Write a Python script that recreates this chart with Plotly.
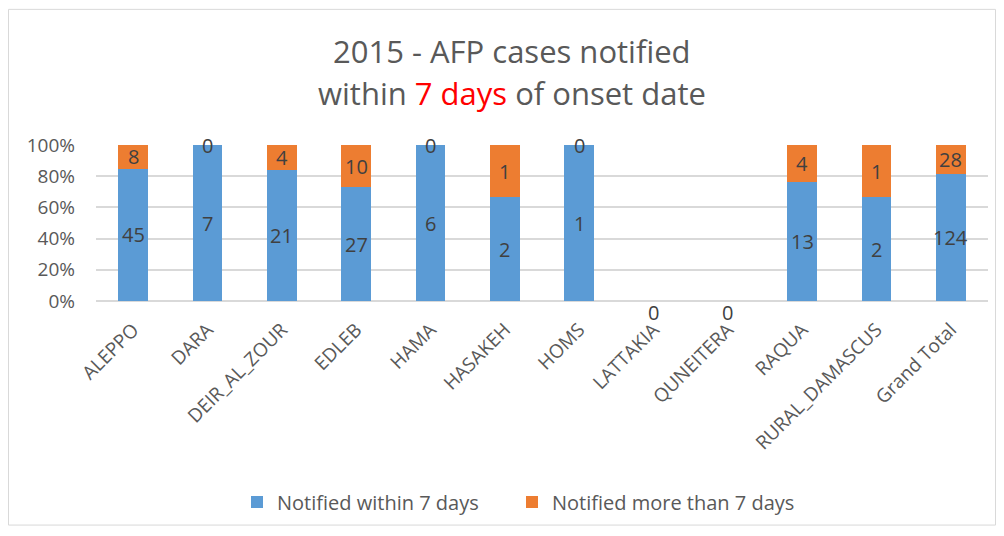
import plotly.graph_objects as go

categories = ["ALEPPO", "DARA", "DEIR_AL_ZOUR", "EDLEB", "HAMA", "HASAKEH", "HOMS",
              "LATTAKIA", "QUNEITERA", "RAQUA", "RURAL_DAMASCUS", "Grand Total"]
within_7 = [45, 7, 21, 27, 6, 2, 1, 0, 0, 13, 2, 124]
more_than_7 = [8, 0, 4, 10, 0, 1, 0, 0, 0, 4, 1, 28]
series_names = ["Notified within 7 days", "Notified more than 7 days"]
colors = ["#5b9bd5", "#ed7d31"]
title_line1 = "2015 - AFP cases notified"
title_line2 = "within <span style='color:#ff0000'>7 days</span> of onset date"

totals = [a + b for a, b in zip(within_7, more_than_7)]
pct_within = [a / t if t else 0 for a, t in zip(within_7, totals)]
pct_more = [b / t if t else 0 for b, t in zip(more_than_7, totals)]

# page has an 8px body margin; figure drawn in a 988x520 box
OFF = 8
W, H = 1004 - 2 * OFF, 536 - 2 * OFF
# plot area in reference pixel coords: x 96..988, y 145..302
ml = 96 - OFF
mr = W - (988 - OFF)
mt = 145 - OFF
mb = H - (302 - OFF)
pw, ph = W - ml - mr, H - mt - mb

def px(x):
    return (x - OFF - ml) / pw

def py(y):
    return (H - mb - (y - OFF)) / ph

FONT = "Open Sans, sans-serif"

fig = go.Figure()
fig.add_trace(go.Bar(x=categories, y=pct_within, name=series_names[0], legend="legend",
                     showlegend=True,
                     marker=dict(color=colors[0], line=dict(width=0))))
fig.add_trace(go.Bar(x=categories, y=pct_more, name=series_names[1], legend="legend2",
                     showlegend=True,
                     marker=dict(color=colors[1], line=dict(width=0))))

lab_font = dict(family=FONT, size=20, color="#404040")
annotations = []
for c, a, b, pa, pb, t in zip(categories, within_7, more_than_7, pct_within, pct_more, totals):
    if t == 0:
        annotations.append(dict(x=c, y=0, text=str(a), showarrow=False, font=lab_font,
                                xref="x", yref="y", yshift=-11))
        continue
    annotations.append(dict(x=c, y=pa / 2, text=str(a), showarrow=False, font=lab_font,
                            xref="x", yref="y"))
    annotations.append(dict(x=c, y=pa + pb / 2, text=str(b), showarrow=False, font=lab_font,
                            xref="x", yref="y"))

title_font = dict(family=FONT, size=31, color="#595959")
annotations.append(dict(x=px(512), y=py(50), xref="paper", yref="paper", text=title_line1,
                        showarrow=False, font=title_font, xanchor="center", yanchor="middle"))
annotations.append(dict(x=px(512), y=py(93), xref="paper", yref="paper", text=title_line2,
                        showarrow=False, font=title_font, xanchor="center", yanchor="middle"))

legend_font = dict(family=FONT, size=20, color="#595959")

fig.update_layout(
    width=W, height=H,
    margin=dict(l=ml, r=mr, t=mt, b=mb),
    barmode="stack",
    bargap=0.6,
    showlegend=True,
    plot_bgcolor="white",
    paper_bgcolor="white",
    xaxis=dict(
        tickangle=-45,
        tickfont=dict(family=FONT, size=19, color="#595959"),
        showgrid=False, showline=False, ticks="",
        ticklabelstandoff=13,
    ),
    yaxis=dict(
        range=[0, 1], tickvals=[0, 0.2, 0.4, 0.6, 0.8, 1.0], tickformat=".0%",
        tickfont=dict(family=FONT, size=19, color="#595959"),
        showgrid=True, gridcolor="#d9d9d9", gridwidth=1.5,
        zeroline=True, zerolinecolor="#d9d9d9", zerolinewidth=1.5,
        ticks="", showline=False,
        ticklabelstandoff=20,
    ),
    legend=dict(
        orientation="h", x=px(237), xanchor="left", y=py(502), yanchor="middle",
        font=legend_font, itemwidth=30, visible=True,
    ),
    legend2=dict(
        orientation="h", x=px(512), xanchor="left", y=py(502), yanchor="middle",
        font=legend_font, itemwidth=30, visible=True,
    ),
    annotations=annotations,
    shapes=[dict(type="rect", xref="paper", yref="paper",
                 x0=px(OFF + 0.5), x1=px(1004 - OFF - 0.5), y0=py(536 - OFF - 0.5), y1=py(OFF + 0.5),
                 line=dict(color="#d9d9d9", width=1), fillcolor="rgba(0,0,0,0)", layer="below")],
)

fig.write_html("out.html")
